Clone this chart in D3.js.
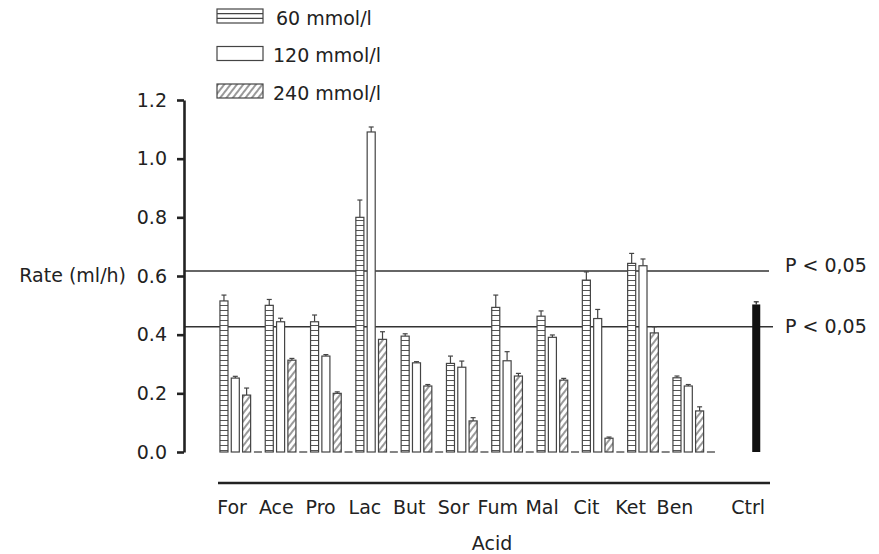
<!DOCTYPE html>
<html>
<head>
<meta charset="utf-8">
<script src="https://cdn.jsdelivr.net/npm/d3@7/dist/d3.min.js"></script>
<style>
  html, body { margin: 0; padding: 0; background: #fff; }
  svg { display: block; }
  text { font-family: Verdana, "DejaVu Sans", sans-serif; fill: #222; }
</style>
</head>
<body>
<svg id="chart" width="879" height="554"></svg>
<script>
// ---- data ----
const categories = ["For","Ace","Pro","Lac","But","Sor","Fum","Mal","Cit","Ket","Ben"];
const controlLabel = "Ctrl";
const seriesNames = ["60 mmol/l","120 mmol/l","240 mmol/l"];
const mean60  = [0.515,0.500,0.444,0.800,0.395,0.302,0.493,0.463,0.586,0.643,0.253];
const err60   = [0.020,0.020,0.023,0.059,0.008,0.025,0.042,0.018,0.028,0.034,0.006];
const mean120 = [0.252,0.444,0.327,1.091,0.304,0.289,0.311,0.391,0.455,0.635,0.225];
const err120  = [0.006,0.012,0.005,0.017,0.004,0.021,0.031,0.008,0.031,0.023,0.005];
const mean240 = [0.194,0.313,0.200,0.384,0.225,0.106,0.259,0.245,0.047,0.406,0.140];
const err240  = [0.024,0.006,0.005,0.026,0.005,0.011,0.009,0.006,0.004,0.021,0.014];
const ctrlMean = 0.503;
const ctrlErr  = 0.009;
const thresholds = [0.617, 0.427];
const thresholdLabel = "P < 0,05";
const yTicks = [0.0,0.2,0.4,0.6,0.8,1.0,1.2];
const yLabel = "Rate (ml/h)";
const xLabel = "Acid";

// ---- setup ----
const svg = d3.select("#chart");
const FS = 19;
const defs = svg.append("defs");

// 60 mmol/l : ladder (horizontal rungs)
const p60 = defs.append("pattern").attr("id","p60")
  .attr("patternUnits","userSpaceOnUse").attr("width",10).attr("height",5);
p60.append("rect").attr("width",10).attr("height",5).attr("fill","#fff");
p60.append("line").attr("x1",0).attr("x2",10).attr("y1",0.5).attr("y2",0.5)
  .attr("stroke","#555").attr("stroke-width",1);

// 240 mmol/l : diagonal hatch
const p240 = defs.append("pattern").attr("id","p240")
  .attr("patternUnits","userSpaceOnUse").attr("width",5).attr("height",5)
  .attr("patternTransform","rotate(38)");
p240.append("rect").attr("width",5).attr("height",5).attr("fill","#fff");
p240.append("line").attr("x1",1).attr("x2",1).attr("y1",0).attr("y2",5)
  .attr("stroke","#555").attr("stroke-width",1.2);

const fills = ["url(#p60)", "#fff", "url(#p240)"];

const allCats = categories.concat([controlLabel]);
const x = d3.scaleBand().domain(allCats).range([218.3, 218.3 + 12*45.3]).padding(0);
const xs = d3.scaleBand().domain([0,1,2,3]).range([0, x.bandwidth()])
  .paddingInner(0.29).paddingOuter(0.145);
const y = d3.scaleLinear().domain([0,1.2]).range([452,100]);

const series = [
  {name: seriesNames[0], mean: mean60, err: err60},
  {name: seriesNames[1], mean: mean120, err: err120},
  {name: seriesNames[2], mean: mean240, err: err240}
];

// ---- reference lines ----
svg.append("g").selectAll("line").data(thresholds).join("line")
  .attr("x1", 184).attr("x2", (d,i) => i === 0 ? 769 : 773)
  .attr("y1", d => y(d)).attr("y2", d => y(d))
  .attr("stroke","#333").attr("stroke-width",1.3);

svg.append("g").selectAll("text").data(thresholds).join("text")
  .attr("x", 785).attr("y", (d,i) => y(d) + (i === 0 ? 1 : 6.5))
  .attr("font-size", FS).text(thresholdLabel);

// ---- bars ----
const bw = xs.bandwidth();
series.forEach((s, si) => {
  const g = svg.append("g");
  const data = categories.map((c,i) => ({c, v: s.mean[i], e: s.err[i]}));
  // error bars
  g.selectAll("line.err").data(data).join("line").attr("class","err")
    .attr("x1", d => x(d.c) + xs(si) + bw/2).attr("x2", d => x(d.c) + xs(si) + bw/2)
    .attr("y1", d => y(d.v)).attr("y2", d => y(d.v + d.e))
    .attr("stroke","#444").attr("stroke-width",1.2);
  g.selectAll("line.cap").data(data).join("line").attr("class","cap")
    .attr("x1", d => x(d.c) + xs(si) + bw/2 - 2.5).attr("x2", d => x(d.c) + xs(si) + bw/2 + 2.5)
    .attr("y1", d => y(d.v + d.e)).attr("y2", d => y(d.v + d.e))
    .attr("stroke","#444").attr("stroke-width",1.2);
  g.selectAll("rect").data(data).join("rect")
    .attr("x", d => x(d.c) + xs(si)).attr("width", bw)
    .attr("y", d => y(d.v)).attr("height", d => y(0) - y(d.v))
    .attr("fill", fills[si]).attr("stroke","#444").attr("stroke-width",1.2);
});

// baseline dashes in the 4th slot of each group
svg.append("g").selectAll("line").data(categories).join("line")
  .attr("x1", d => x(d) + xs(3)).attr("x2", d => x(d) + xs(3) + bw)
  .attr("y1", y(0)).attr("y2", y(0))
  .attr("stroke","#666").attr("stroke-width",1.6);

// control bar
const cx = x(controlLabel) + xs(3);
svg.append("line")
  .attr("x1", cx + bw/2).attr("x2", cx + bw/2)
  .attr("y1", y(ctrlMean)).attr("y2", y(ctrlMean + ctrlErr))
  .attr("stroke","#222").attr("stroke-width",1.2);
svg.append("line")
  .attr("x1", cx + bw/2 - 2.5).attr("x2", cx + bw/2 + 2.5)
  .attr("y1", y(ctrlMean + ctrlErr)).attr("y2", y(ctrlMean + ctrlErr))
  .attr("stroke","#222").attr("stroke-width",1.2);
svg.append("rect")
  .attr("x", cx).attr("width", bw)
  .attr("y", y(ctrlMean)).attr("height", y(0) - y(ctrlMean))
  .attr("fill","#111");

// ---- y axis ----
const yAxis = svg.append("g").attr("transform","translate(184,0)")
  .call(d3.axisLeft(y).tickValues(yTicks).tickFormat(d3.format(".1f")).tickSize(7).tickSizeOuter(0));
yAxis.select(".domain").attr("stroke","#222").attr("stroke-width",2.6);
yAxis.selectAll(".tick line").attr("stroke","#222").attr("stroke-width",2.6);
yAxis.selectAll(".tick text").attr("font-size", FS).attr("x",-17)
  .attr("font-family","Verdana, 'DejaVu Sans', sans-serif").attr("fill","#222");

svg.append("text").attr("x",126).attr("y", y(0.6)).attr("dy","0.32em")
  .attr("text-anchor","end").attr("font-size",FS).text(yLabel);

// ---- x axis ----
svg.append("line").attr("x1",218).attr("x2",770).attr("y1",483).attr("y2",483)
  .attr("stroke","#222").attr("stroke-width",2.6);
const xl = d3.scalePoint().domain(categories).range([232, 675]);
svg.append("g").selectAll("text").data(categories).join("text")
  .attr("x", d => xl(d)).attr("y", 514).attr("text-anchor","middle")
  .attr("font-size",FS).text(d => d);
svg.append("text").attr("x", cx + bw/2 - 8).attr("y",514).attr("text-anchor","middle")
  .attr("font-size",FS).text(controlLabel);
svg.append("text").attr("x", 492).attr("y", 550).attr("text-anchor","middle")
  .attr("font-size",FS).text(xLabel);

// ---- legend ----
const lg = svg.append("g").selectAll("g").data(seriesNames).join("g")
  .attr("transform", (d,i) => `translate(217,${9 + i*37.5})`);
lg.append("rect").attr("width",46).attr("height",14)
  .attr("fill", (d,i) => i === 0 ? "#fff" : fills[i]).attr("stroke","#444").attr("stroke-width",1.2);
lg.filter((d,i) => i === 0).selectAll("line.l").data([4.7, 9.3]).join("line")
  .attr("x1",0).attr("x2",46).attr("y1",d=>d).attr("y2",d=>d)
  .attr("stroke","#444").attr("stroke-width",1.2);
lg.append("text").attr("x",(d,i) => i === 0 ? 59 : 56).attr("y",15.5)
  .attr("font-size",FS).text(d => d);
</script>
</body>
</html>
